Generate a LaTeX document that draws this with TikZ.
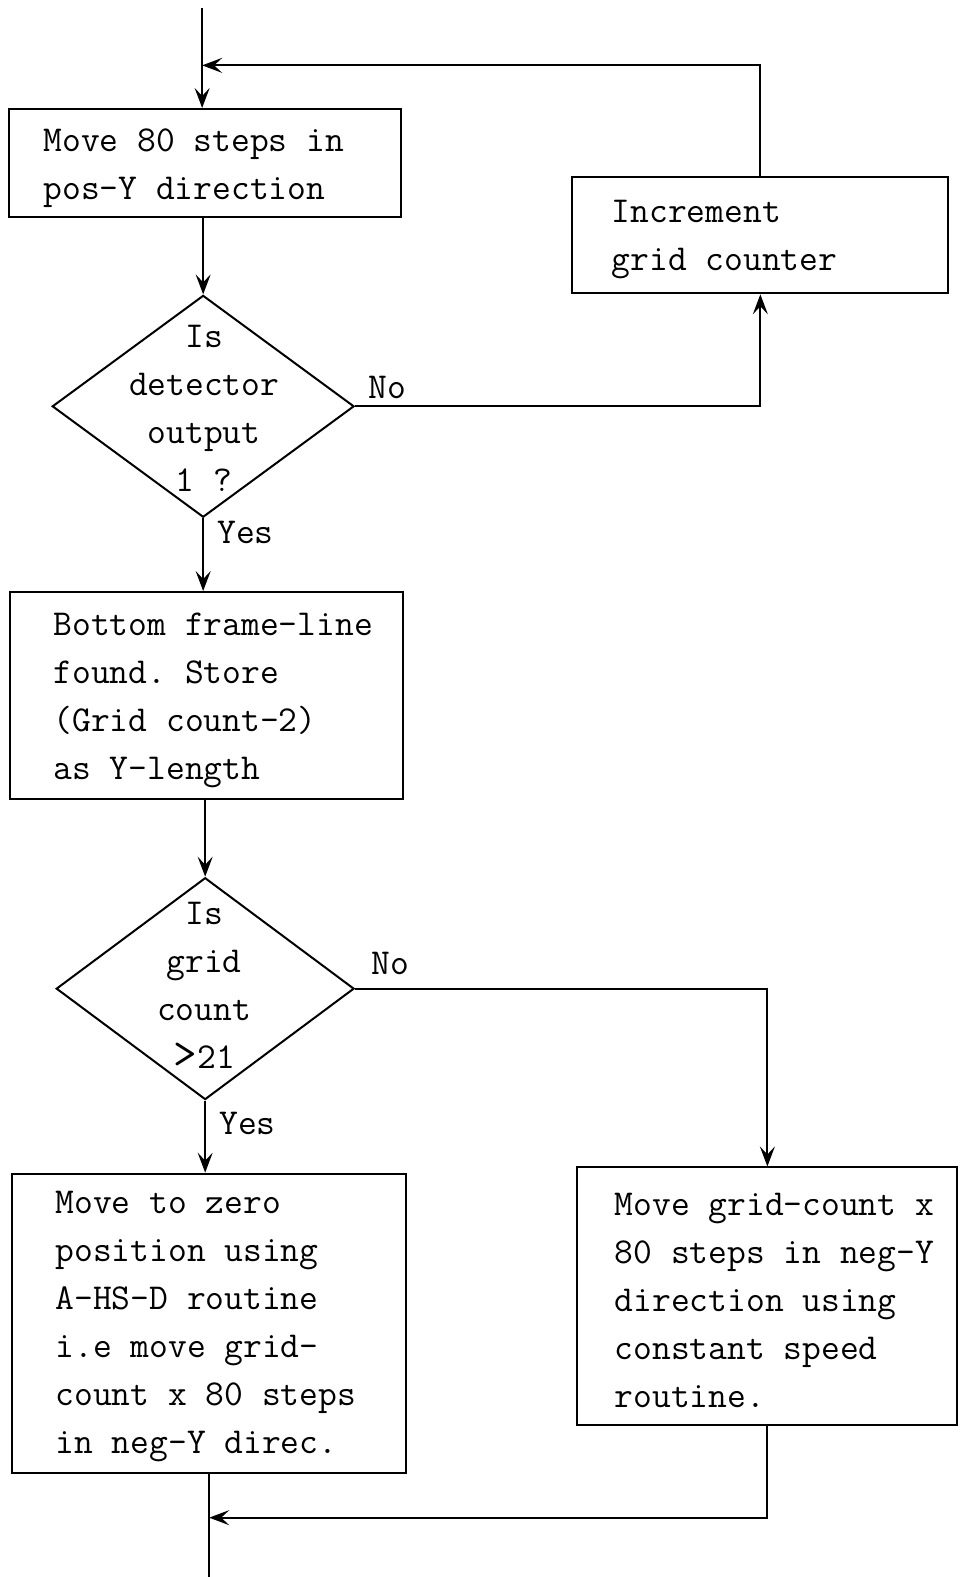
\documentclass[tikz,border=0pt]{standalone}
\usepackage{fontspec}
\usetikzlibrary{shapes.geometric,arrows.meta}
\frenchspacing

\tikzset{
  flow/.style={line width=2pt},
  arr/.style={flow,-{Stealth[length=20pt,width=15pt,inset=8pt]}},
  box/.style={draw,line width=2pt,rectangle,inner sep=0pt},
  decision/.style={draw,line width=2pt,diamond,inner sep=0pt},
  txt/.style={font=\ttfamily\frenchspacing\fontsize{36.5}{48}\selectfont,inner sep=0pt},
  boxtxt/.style={txt,anchor=west,align=left},
  dtxt/.style={txt,align=center},
}

\begin{document}
\begin{tikzpicture}[x=1.00625pt,y=-1.00625pt]
\useasboundingbox (0,0) rectangle (960,1568);

% process boxes
\node[box,minimum width=392pt,minimum height=108pt] (b1) at (204,162) {};
\node[box,minimum width=376pt,minimum height=116pt] (b2) at (756,234) {};
\node[box,minimum width=393pt,minimum height=207pt] (b3) at (205.5,691.5) {};
\node[box,minimum width=394pt,minimum height=300pt] (b4) at (208,1316) {};
\node[box,minimum width=380pt,minimum height=258pt] (b5) at (763,1289) {};

% decisions
\node[decision,minimum width=302pt,minimum height=222pt] (d1) at (202,404) {};
\node[decision,minimum width=298pt,minimum height=222pt] (d2) at (204,983) {};

% box texts
\node[boxtxt] (t1) at (43,167) {Move 80 steps in\\pos-Y direction};
\node[boxtxt] (t2) at (608,238) {Increment\\grid counter};
\node[boxtxt] (t3) at (53,696) {Bottom frame-line\\found. Store\\(Grid count-2)\\as Y-length};
\node[boxtxt] (t4) at (55,1319) {Move to zero\\position using\\A-HS-D routine\\i.e move grid-\\count x 80 steps\\in neg-Y direc.};
\node[boxtxt] (t5) at (611,1293) {Move grid-count x\\80 steps in neg-Y\\direction using\\constant speed\\routine.};

% decision texts
\node[dtxt] (q1) at (203,406) {Is\\detector\\output\\1 ?};
\node[dtxt] (q2) at (203,980) {Is\\grid\\count\\{\fontsize{46}{48}\selectfont >}21};

% branch labels
\node[txt] (n1) at (385,385) {No};
\node[txt] (y1) at (244,529) {Yes};
\node[txt] (n2) at (388,958) {No};
\node[txt] (y2) at (246,1117) {Yes};

% free ends and junctions
\coordinate (start) at (201,8);
\coordinate (j1) at (201,65);
\coordinate (j2) at (208,1509);
\coordinate (finish) at (208,1568);

% connectors
\draw[arr] (start) -- (start |- b1.north);
\draw[arr] (b2.north) |- (j1);
\draw[arr] (d1.north |- b1.south) -- (d1.north);
\draw[arr] (d1.east) -| (b2.south);
\draw[arr] (d1.south) -- (d1.south |- b3.north);
\draw[arr] (d2.north |- b3.south) -- (d2.north);
\draw[arr] (d2.east) -| (b5.north);
\draw[arr] (d2.south) -- (d2.south |- b4.north);
\draw[arr] (b5.south) |- (j2);
\draw[flow] (b4.south) -- (finish);
\end{tikzpicture}
\end{document}
